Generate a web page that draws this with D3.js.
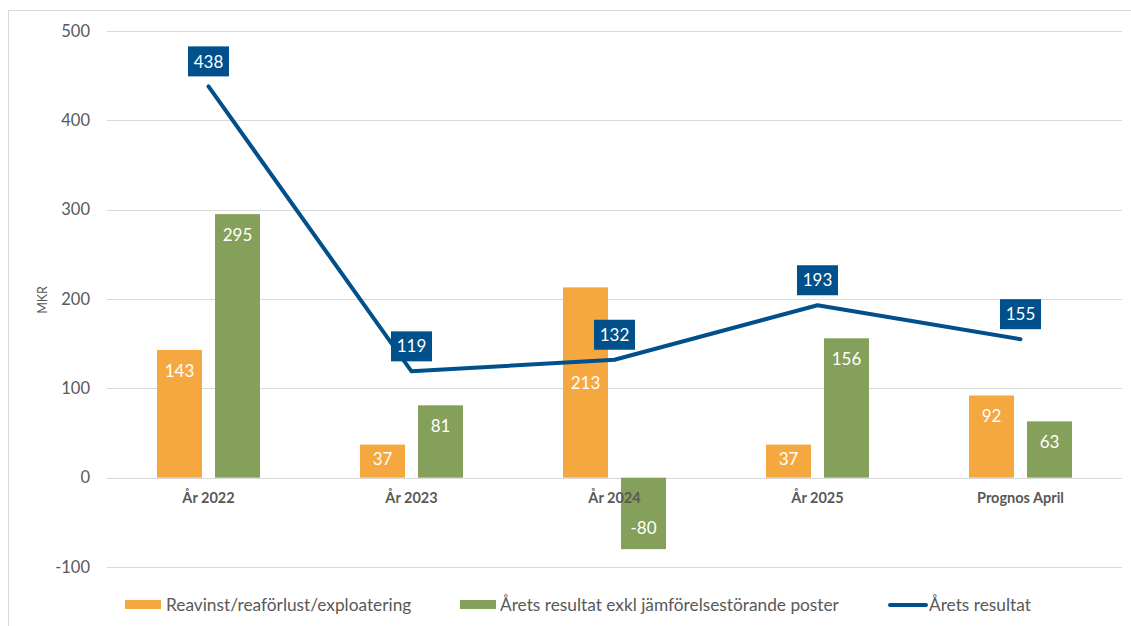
<!DOCTYPE html>
<html>
<head>
<meta charset="utf-8">
<script src="https://cdn.jsdelivr.net/npm/d3@7"></script>
<style>
  html, body { margin: 0; padding: 0; background: #fff; }
  svg { display: block; font-family: Lato, "Open Sans", sans-serif; }
</style>
</head>
<body>
<svg id="chart" width="1131" height="626"></svg>
<script>
const categories = ["År 2022", "År 2023", "År 2024", "År 2025", "Prognos April"];
const reavinst = [143, 37, 213, 37, 92];
const aretsExkl = [295, 81, -80, 156, 63];
const aretsResultat = [438, 119, 132, 193, 155];
const yTicks = [-100, 0, 100, 200, 300, 400, 500];
const seriesNames = ["Reavinst/reaförlust/exploatering", "Årets resultat exkl jämförelsestörande poster", "Årets resultat"];

const colors = { orange: "#F5A83F", green: "#85A05A", blue: "#00508B", grid: "#D9D9D9", text: "#595959" };

const svg = d3.select("#chart");

// chart border
svg.append("rect").attr("x", 8.5).attr("y", 10.5).attr("width", 1300).attr("height", 800)
  .attr("fill", "none").attr("stroke", colors.grid).attr("stroke-width", 1);

const x = d3.scaleBand().domain(categories).range([107, 1122]).paddingInner(0).paddingOuter(0);
const y = d3.scaleLinear().domain([-100, 500]).range([567, 31]);
const keys = ["reavinst", "aretsExkl"];
const x1 = d3.scaleBand().domain(keys).range([0, x.bandwidth()]).paddingInner(0.224).paddingOuter(0.862);

// gridlines
svg.append("g").selectAll("line").data(yTicks).join("line")
  .attr("x1", 107).attr("x2", 1122)
  .attr("y1", d => Math.round(y(d)) + 0.5).attr("y2", d => Math.round(y(d)) + 0.5)
  .attr("stroke", colors.grid).attr("stroke-width", 1);

// y axis labels
const yAxis = d3.axisLeft(y).tickValues(yTicks).tickSize(0).tickPadding(0).tickFormat(d => String(d));
const yg = svg.append("g").attr("transform", "translate(90,0)").call(yAxis);
yg.select(".domain").remove();
yg.selectAll("text").attr("fill", colors.text).style("font-size", "16.5px").style("font-family", "Lato, sans-serif");

// MKR
svg.append("text").attr("transform", "translate(47,300) rotate(-90)")
  .attr("text-anchor", "middle").attr("fill", colors.text).style("font-size", "12.5px").text("MKR");

const barData = categories.map((c, i) => ({ c, i, vals: [
  { key: "reavinst", v: reavinst[i], color: colors.orange },
  { key: "aretsExkl", v: aretsExkl[i], color: colors.green }
]}));

const groups = svg.append("g").selectAll("g").data(barData).join("g")
  .attr("transform", d => `translate(${x(d.c)},0)`);

groups.selectAll("rect").data(d => d.vals).join("rect")
  .attr("x", d => x1(d.key)).attr("width", x1.bandwidth())
  .attr("y", d => y(Math.max(0, d.v)))
  .attr("height", d => Math.abs(y(d.v) - y(0)))
  .attr("fill", d => d.color);

// special label placement (moved label in original)
const labelShift = { "reavinst-2": 96 };

groups.selectAll("text.bl").data(d => d.vals.map(v => Object.assign({ i: d.i }, v))).join("text")
  .attr("class", "bl")
  .attr("x", d => x1(d.key) + x1.bandwidth() / 2)
  .attr("y", d => {
    const h = Math.abs(y(d.v) - y(0));
    const off = labelShift[d.key + "-" + d.i] || Math.min(21, h / 2 - 2);
    return d.v >= 0 ? y(d.v) + off : y(d.v) - off;
  })
  .attr("dy", "0.35em").attr("text-anchor", "middle")
  .attr("fill", "#fff").style("font-size", "17px").text(d => d.v);

// x axis labels
const xAxis = d3.axisBottom(x).tickSize(0).tickPadding(0);
const xg = svg.append("g").attr("transform", "translate(0,493)").call(xAxis);
xg.select(".domain").remove();
xg.selectAll("text").attr("fill", colors.text).style("font-size", "14.5px").style("font-weight", "bold").style("font-family", "Lato, sans-serif");

// line
const lineData = categories.map((c, i) => ({ c, v: aretsResultat[i] }));
const line = d3.line().x(d => x(d.c) + x.bandwidth() / 2).y(d => y(d.v));
svg.append("path").datum(lineData).attr("d", line)
  .attr("fill", "none").attr("stroke", colors.blue).attr("stroke-width", 4)
  .attr("stroke-linecap", "round").attr("stroke-linejoin", "round");

// line labels
const ll = svg.append("g").selectAll("g").data(lineData).join("g")
  .attr("transform", d => `translate(${x(d.c) + x.bandwidth() / 2},${y(d.v) - 25})`);
ll.append("rect").attr("x", -20.5).attr("y", -15).attr("width", 41).attr("height", 30).attr("fill", colors.blue);
ll.append("text").attr("text-anchor", "middle").attr("dy", "0.36em").attr("fill", "#fff")
  .style("font-size", "17px").text(d => d.v);

// legend
const leg = svg.append("g");
leg.append("rect").attr("x", 125).attr("y", 600).attr("width", 36).attr("height", 9).attr("fill", colors.orange);
leg.append("text").attr("x", 166).attr("y", 605).attr("dy", "0.36em").attr("fill", colors.text).style("font-size", "17.3px").text(seriesNames[0]);
leg.append("rect").attr("x", 460).attr("y", 600).attr("width", 36).attr("height", 9).attr("fill", colors.green);
leg.append("text").attr("x", 500).attr("y", 605).attr("dy", "0.36em").attr("fill", colors.text).style("font-size", "17.3px").text(seriesNames[1]);
leg.append("line").attr("x1", 890).attr("x2", 926).attr("y1", 605).attr("y2", 605)
  .attr("stroke", colors.blue).attr("stroke-width", 4).attr("stroke-linecap", "round");
leg.append("text").attr("x", 929).attr("y", 605).attr("dy", "0.36em").attr("fill", colors.text).style("font-size", "17.3px").text(seriesNames[2]);
</script>
</body>
</html>
